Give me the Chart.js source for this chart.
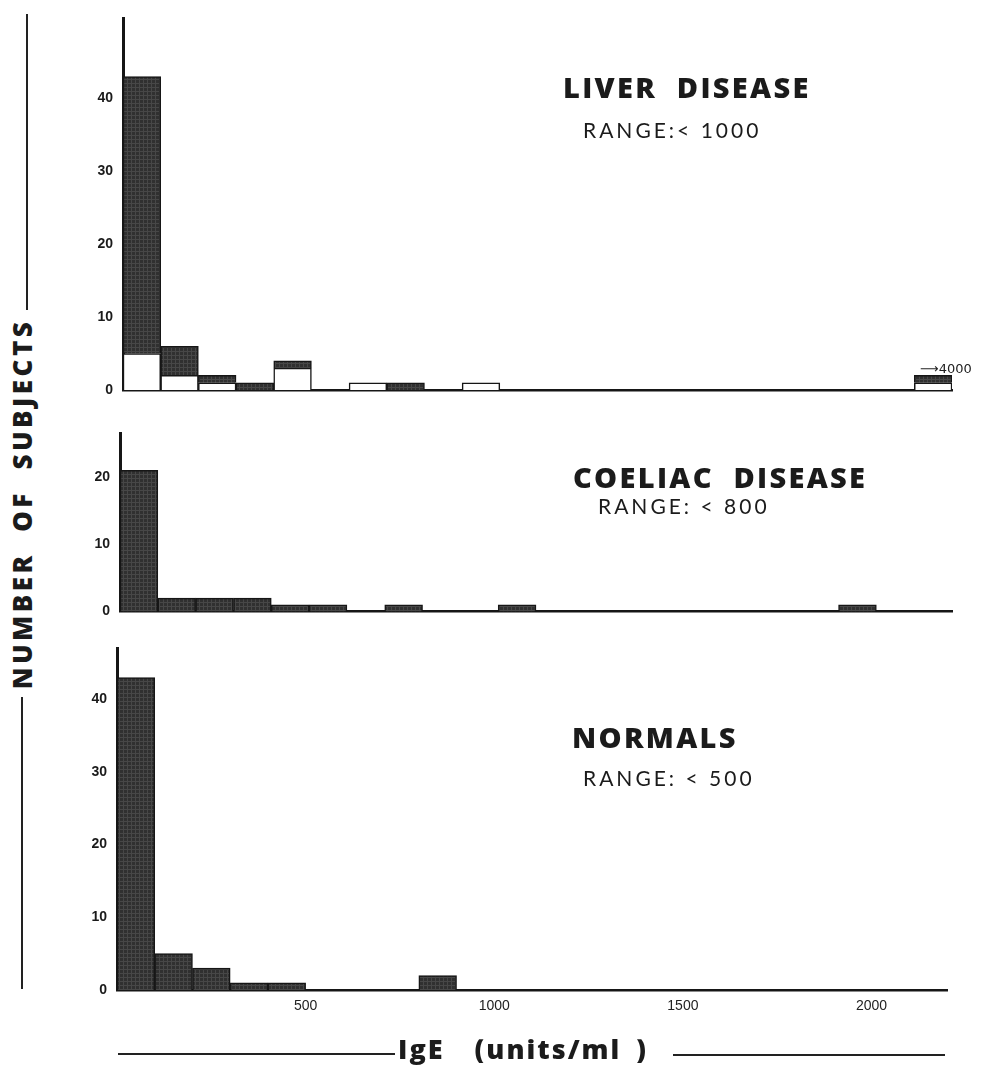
<!DOCTYPE html>
<html>
<head>
<meta charset="utf-8">
<script src="https://cdn.jsdelivr.net/npm/chart.js@4.4.0/dist/chart.umd.min.js"></script>
<style>
  body { margin: 0; background: #fff; width: 984px; height: 1067px; position: relative; overflow: hidden; }
  canvas { position: absolute; }
  .title { position: absolute; font-family: "Open Sans", sans-serif; font-weight: 800; font-size: 29px; color: #1b1b1b; letter-spacing: 2.3px; white-space: pre; line-height: 1; }
  .range { position: absolute; font-family: "Lato", sans-serif; font-size: 21px; color: #1b1b1b; letter-spacing: 3px; white-space: pre; line-height: 1; }
  .rule { position: absolute; background: #222; }
</style>
</head>
<body>
<canvas id="liver" width="944" height="410" style="left:40px;top:0px"></canvas>
<canvas id="coeliac" width="944" height="215" style="left:40px;top:415px"></canvas>
<canvas id="normals" width="944" height="420" style="left:40px;top:630px"></canvas>

<div class="title" style="left:563px;top:72px">LIVER  DISEASE</div>
<div class="range" style="left:583px;top:119px">RANGE:&lt; 1000</div>
<div class="title" style="left:573px;top:462px">COELIAC  DISEASE</div>
<div class="range" style="left:598px;top:495px">RANGE: &lt; 800</div>
<div class="title" style="left:572px;top:722px">NORMALS</div>
<div class="range" style="left:583px;top:767px">RANGE: &lt; 500</div>

<div style="position:absolute;left:920px;top:361px;font-family:'DejaVu Sans',sans-serif;font-size:13px;color:#222;white-space:pre">&#10230;4000</div>

<!-- y axis title with its rules -->
<div class="rule" style="left:26px;top:14px;width:2px;height:296px"></div>
<div class="title" style="left:22px;top:504px;font-size:26px;letter-spacing:3.5px;transform:translate(-50%,-50%) rotate(-90deg)">NUMBER  OF  SUBJECTS</div>
<div class="rule" style="left:21px;top:697px;width:2px;height:292px"></div>

<!-- x axis title with its rules -->
<div class="rule" style="left:118px;top:1053px;width:277px;height:2px"></div>
<div class="title" style="left:398px;top:1035px;font-size:27px;letter-spacing:2px;word-spacing:6px">IgE  (units/ml )</div>
<div class="rule" style="left:673px;top:1054px;width:272px;height:2px"></div>

<script>
// bin centres, IgE units/ml (bins 100 wide, 0 - 2200)
const binCentres = [50, 150, 250, 350, 450, 550, 650, 750, 850, 950, 1050,
                    1150, 1250, 1350, 1450, 1550, 1650, 1750, 1850, 1950, 2050, 2150];

// liver disease: open part (bottom) and shaded part (top) of each bar
const liverOpen   = [5, 2, 1, 0, 3, 0, 1, 0, 0, 1, 0, 0, 0, 0, 0, 0, 0, 0, 0, 0, 0, 1];
const liverShaded = [38, 4, 1, 1, 1, 0, 0, 1, 0, 0, 0, 0, 0, 0, 0, 0, 0, 0, 0, 0, 0, 1];
const coeliacCounts = [21, 2, 2, 2, 1, 1, 0, 1, 0, 0, 1, 0, 0, 0, 0, 0, 0, 0, 0, 1, 0, 0];
const normalCounts  = [43, 5, 3, 1, 1, 0, 0, 0, 2, 0, 0, 0, 0, 0, 0, 0, 0, 0, 0, 0, 0, 0];

const liverTicks = [0, 10, 20, 30, 40];
const coeliacTicks = [0, 10, 20];
const normalTicks = [0, 10, 20, 30, 40];
const xTicks = [500, 1000, 1500, 2000];

const ink = '#161616';

function texture(ctx) {
    const c = document.createElement('canvas');
    c.width = 4; c.height = 4;
    const g = c.getContext('2d');
    g.fillStyle = '#303030';
    g.fillRect(0, 0, 4, 4);
    g.fillStyle = '#474747';
    g.fillRect(0, 3, 4, 1);
    g.fillRect(3, 0, 1, 4);
    return ctx.createPattern(c, 'repeat');
}

function points(values) {
    return values.map((v, i) => ({ x: binCentres[i], y: v }));
}

function barSet(values, fill) {
    return {
        data: points(values),
        backgroundColor: fill,
        borderColor: ink,
        borderWidth: 1.5,
        barPercentage: 1,
        categoryPercentage: 1,
    };
}

// area = chart area in page pixels, box = canvas position
function panel(id, box, area, datasets, yMax, yTicks, showX) {
    const canvas = document.getElementById(id);
    const yWidth = area.left - box.left;
    const xHeight = box.top + box.height - area.bottom;
    new Chart(canvas, {
        type: 'bar',
        data: { datasets: datasets },
        options: {
            responsive: false,
            animation: false,
            layout: {
                padding: {
                    left: 0,
                    top: area.top - box.top,
                    right: box.left + box.width - area.right,
                    bottom: 0,
                },
            },
            plugins: {
                legend: { display: false },
                tooltip: { enabled: false },
            },
            scales: {
                x: {
                    type: 'linear',
                    min: 0,
                    max: 2200,
                    stacked: true,
                    offset: false,
                    z: 1,
                    afterFit: (scale) => { scale.height = xHeight; },
                    afterBuildTicks: (scale) => {
                        scale.ticks = xTicks.map((v) => ({ value: v }));
                    },
                    grid: { display: false, drawTicks: false },
                    border: { display: true, color: ink, width: 2.5 },
                    ticks: {
                        display: showX,
                        padding: 8,
                        color: '#222',
                        font: { family: 'Liberation Sans', size: 14 },
                        callback: (v) => String(v),
                    },
                },
                y: {
                    min: 0,
                    max: yMax,
                    stacked: true,
                    z: 1,
                    afterFit: (scale) => { scale.width = yWidth; },
                    afterBuildTicks: (scale) => {
                        scale.ticks = yTicks.map((v) => ({ value: v }));
                    },
                    grid: { display: false, drawTicks: false },
                    border: { display: true, color: ink, width: 3 },
                    ticks: {
                        padding: 10,
                        color: '#1a1a1a',
                        font: { family: 'Liberation Sans', size: 14, weight: 'bold' },
                    },
                },
            },
        },
    });
}

const dark = texture(document.getElementById('liver').getContext('2d'));

panel('liver', { left: 40, top: 0, width: 944, height: 410 },
    { left: 123, top: 12, right: 952, bottom: 390 },
    [barSet(liverOpen, '#ffffff'), barSet(liverShaded, dark)], 51, liverTicks, false);

panel('coeliac', { left: 40, top: 415, width: 944, height: 215 },
    { left: 120, top: 427, right: 952, bottom: 615 },
    [barSet(coeliacCounts, dark)], 26.5, coeliacTicks, false);

panel('normals', { left: 40, top: 630, width: 944, height: 420 },
    { left: 117, top: 643, right: 947, bottom: 990 },
    [barSet(normalCounts, dark)], 47, normalTicks, true);
</script>
</body>
</html>
